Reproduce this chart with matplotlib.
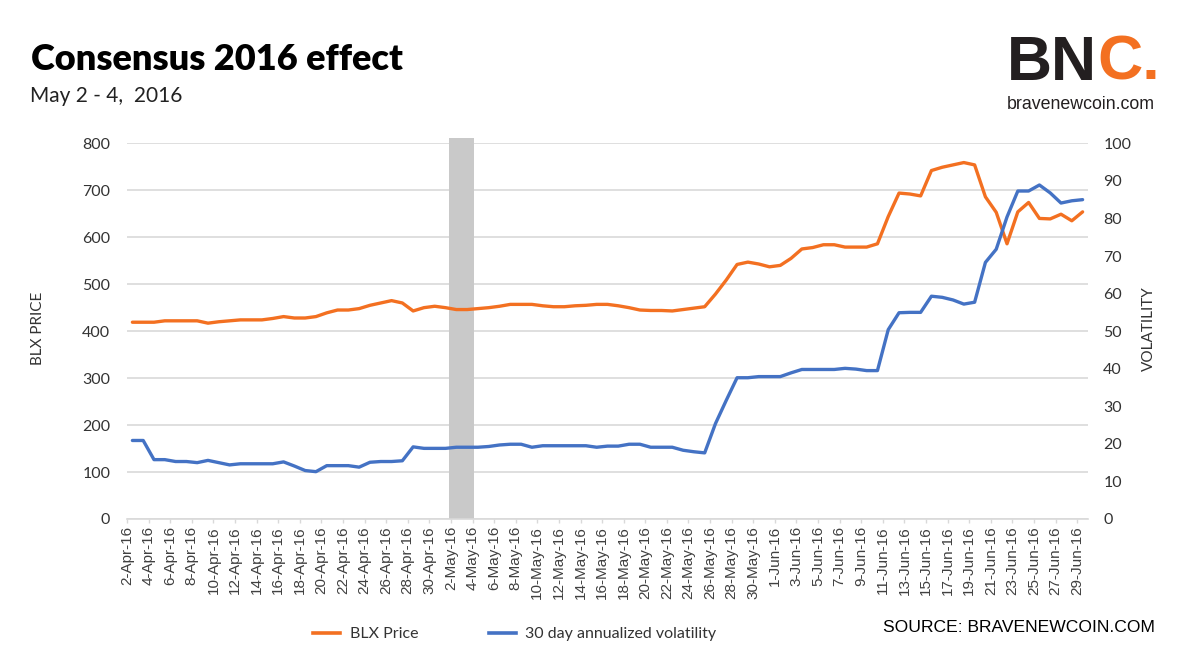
import numpy as np
import pandas as pd
import matplotlib
matplotlib.use("Agg")
import matplotlib.pyplot as plt
from matplotlib.lines import Line2D

plt.rcParams['font.family'] = ['Lato', 'DejaVu Sans']

# Dates shown on the x axis (one point per day)
start_date = "2016-04-02"
end_date = "2016-06-29"

# Consensus 2016 conference (shaded band)
event_start = "2016-05-02"
event_end = "2016-05-04"

# BLX price (left axis)
blx_price = [419, 419, 419, 422, 422, 422, 422, 417, 420, 422,
             424, 424, 424, 427, 431, 428, 428, 431, 439, 445,
             445, 448, 455, 460, 465, 460, 443, 450, 453, 450,
             446, 446, 448, 450, 453, 457, 457, 457, 454, 452,
             452, 454, 455, 457, 457, 454, 450, 445, 444, 444,
             443, 446, 449, 452, 479, 509, 542, 547, 543, 537,
             540, 555, 575, 578, 584, 584, 579, 579, 579, 586,
             644, 694, 692, 688, 742, 749, 754, 759, 754, 686,
             653, 586, 654, 674, 640, 639, 649, 635, 654]

# 30 day annualized volatility (right axis)
volatility = [20.9, 20.9, 15.8, 15.8, 15.3, 15.3, 15.0, 15.6, 15.0, 14.4,
              14.7, 14.7, 14.7, 14.7, 15.2, 14.1, 12.9, 12.6, 14.2, 14.2,
              14.2, 13.8, 15.1, 15.3, 15.3, 15.5, 19.2, 18.8, 18.8, 18.8,
              19.1, 19.1, 19.1, 19.3, 19.7, 19.9, 19.9, 19.1, 19.5, 19.5,
              19.5, 19.5, 19.5, 19.1, 19.4, 19.4, 19.9, 19.9, 19.1, 19.1,
              19.1, 18.3, 17.9, 17.6, 25.4, 31.6, 37.6, 37.6, 37.9, 37.9,
              37.9, 38.9, 39.8, 39.8, 39.8, 39.8, 40.1, 39.9, 39.5, 39.5,
              50.4, 54.9, 55.0, 55.0, 59.3, 59.0, 58.3, 57.2, 57.7, 68.3,
              71.8, 80.4, 87.3, 87.3, 88.9, 86.8, 84.1, 84.7, 85.0]

series_names = ["BLX Price", "30 day annualized volatility"]
price_ticks = list(range(0, 801, 100))
vol_ticks = list(range(0, 101, 10))

orange = "#F37021"
blue = "#4472C4"
grid_col = "#d9d9d9"
text_col = "#333333"

dates = pd.date_range(start_date, end_date, freq="D")
x = np.arange(len(dates)) + 0.5
tick_pos = np.arange(0, len(dates), 2)
tick_labels = [f"{d.day}-{d.strftime('%b-%y')}" for d in dates[tick_pos]]

ev0 = (pd.Timestamp(event_start) - dates[0]).days
ev1 = (pd.Timestamp(event_end) - dates[0]).days

# Figure and axes
fig = plt.figure(figsize=(12, 6.63), dpi=100)
ax = fig.add_axes([127 / 1200, 1 - 519 / 663, 961 / 1200, 375.7 / 663])
ax2 = ax.twinx()

# Shaded event band, grid and lines
ax.axvspan(ev0 - 0.15, ev1 + 0.15, ymin=0, ymax=1.014, color="#c9c9c9",
           lw=0, zorder=1, clip_on=False)
ax.plot(x, blx_price, color=orange, lw=2.4, zorder=3,
        solid_joinstyle="round", solid_capstyle="round")
ax2.plot(x, volatility, color=blue, lw=2.4, zorder=3,
         solid_joinstyle="round", solid_capstyle="round")

ax.set_xlim(0, len(dates))
ax.set_ylim(0, 800)
ax2.set_ylim(0, 100)
ax.set_yticks(price_ticks)
ax2.set_yticks(vol_ticks)
ax.set_xticks(tick_pos)
ax.set_xticklabels(tick_labels, rotation=90, fontfamily="Liberation Sans")

ax.grid(axis="y", color=grid_col, lw=1.2)
ax.set_axisbelow(True)
for s in ["top", "left", "right"]:
    ax.spines[s].set_visible(False)
for s in ["top", "left", "right", "bottom"]:
    ax2.spines[s].set_visible(False)
ax.spines["bottom"].set_color(grid_col)
ax.spines["bottom"].set_linewidth(1.2)

ax.tick_params(axis="x", length=3, width=1, color=grid_col, pad=2,
               labelsize=11, labelcolor="#404040")
ax.tick_params(axis="y", length=0, pad=12, labelsize=11.5, labelcolor=text_col)
ax2.tick_params(axis="y", length=0, pad=11, labelsize=11.5, labelcolor=text_col)

# Axis titles
ax.set_ylabel("BLX PRICE", fontsize=11, color=text_col, va="center")
ax.yaxis.set_label_coords((38.5 - 127) / 961, (519 - 328) / 375.7)
ax2.set_ylabel("VOLATILITY", fontsize=11, color=text_col, va="center", rotation=90)
ax2.yaxis.set_label_coords((1149 - 127) / 961, (519 - 328.5) / 375.7)

# Title block
fig.text(31 / 1200, 1 - 70 / 663, "Consensus 2016 effect", fontsize=26,
         fontweight="heavy", color="black", va="baseline")
fig.text(30 / 1200, 1 - 101.7 / 663, "May 2 - 4,  2016", fontsize=15,
         color="#222222", va="baseline")

# Logo
bn = fig.text(1007 / 1200, 1 - 80 / 663, "BN", fontsize=45, fontweight="bold",
              fontfamily="Liberation Sans", color="#231f20", va="baseline")
ax.annotate("C.", xy=(1, 0), xycoords=bn, ha="left", va="bottom", fontsize=45,
            fontweight="bold", fontfamily="Liberation Sans", color=orange,
            annotation_clip=False)
fig.text(1007 / 1200, 1 - 109 / 663, "bravenewcoin.com", fontsize=12.8,
         fontfamily="Liberation Sans", color="#231f20", va="baseline")

# Legend and source
handles = [Line2D([], [], color=orange, lw=2.6), Line2D([], [], color=blue, lw=2.6)]
fig.legend(handles, series_names, loc="center left",
           bbox_to_anchor=(313 / 1200, 1 - 634 / 663), ncol=2, frameon=False,
           fontsize=11.5, handlelength=1.7, handletextpad=0.6,
           columnspacing=4.4, borderpad=0, borderaxespad=0, labelcolor=text_col)
fig.text(1155 / 1200, 1 - 628 / 663, "SOURCE: BRAVENEWCOIN.COM", fontsize=12.6,
         fontfamily="Liberation Sans", color="black", ha="right", va="center")

fig.savefig("out.png", dpi=100)
